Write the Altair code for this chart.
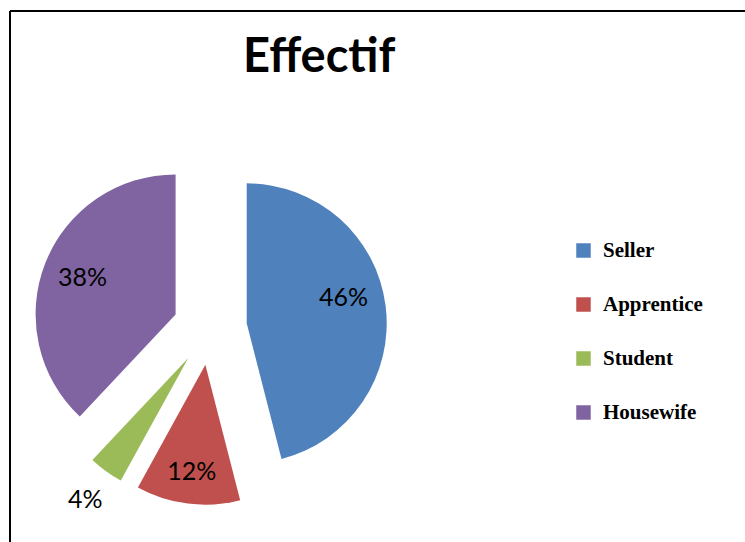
import altair as alt
import pandas as pd

categories = ["Seller", "Apprentice", "Student", "Housewife"]
values = [46, 12, 4, 38]
colors = ["#4F81BD", "#C0504D", "#9BBB59", "#8064A2"]

df = pd.DataFrame({"cat": categories, "v": values, "order": list(range(len(values)))})

CX, CY, EXPLODE, R = 210, 328, 37, 140

base = alt.Chart(df).transform_joinaggregate(
    total="sum(v)"
).transform_window(
    cum="sum(v)", sort=[alt.SortField("order")], frame=[None, 0]
).transform_calculate(
    t0="2*PI*(datum.cum - datum.v)/datum.total",
    t1="2*PI*datum.cum/datum.total",
    pct="datum.v/datum.total",
).transform_calculate(
    mid="(datum.t0 + datum.t1)/2"
).transform_calculate(
    cx=f"{CX} + {EXPLODE}*sin(datum.mid)",
    cy=f"{CY} - {EXPLODE}*cos(datum.mid)",
    lr="datum.pct < 0.05 ? 175 : (datum.pct < 0.2 ? 108 : 100)",
    la="datum.pct > 0.4 ? datum.mid - 0.13 : datum.mid",
).transform_calculate(
    lx="datum.cx + datum.lr*sin(datum.la)",
    ly="datum.cy - datum.lr*cos(datum.la)",
)

arcs = base.mark_arc(radius=R).encode(
    x=alt.X("cx:Q", scale=None, axis=None),
    y=alt.Y("cy:Q", scale=None, axis=None),
    theta=alt.Theta("t0:Q", scale=None),
    theta2="t1:Q",
    color=alt.Color(
        "cat:N",
        scale=alt.Scale(domain=categories, range=colors),
        legend=alt.Legend(
            title=None,
            orient="none",
            legendX=573,
            legendY=240,
            padding=0,
            symbolType="square",
            symbolSize=210,
            symbolStrokeWidth=0,
            labelFont="Liberation Serif",
            labelFontWeight="bold",
            labelFontSize=21,
            labelColor="black",
            labelOffset=9,
            rowPadding=32,
        ),
    ),
)

labels = base.mark_text(font="Lato", fontSize=25, color="black").encode(
    x=alt.X("lx:Q", scale=None, axis=None),
    y=alt.Y("ly:Q", scale=None, axis=None),
    text=alt.Text("pct:Q", format=".0%"),
)

top_line = alt.Chart(df).mark_rule(color="black", strokeWidth=2).encode(
    x=alt.value(10), x2=alt.value(745), y=alt.value(11)
)
left_line = alt.Chart(df).mark_rule(color="black", strokeWidth=2).encode(
    x=alt.value(10), y=alt.value(11), y2=alt.value(542)
)

chart = alt.layer(top_line, left_line, arcs, labels).properties(
    width=745,
    height=542,
    padding=0,
    autosize=alt.AutoSizeParams(type="none"),
    title=alt.Title(
        "Effectif",
        font="Lato",
        fontSize=47,
        fontWeight="bold",
        color="black",
        anchor="start",
        dx=243,
        dy=123,
        baseline="alphabetic",
    ),
).configure_view(stroke=None)

chart.save("out.html", embed_options={"renderer": "svg", "actions": False})
